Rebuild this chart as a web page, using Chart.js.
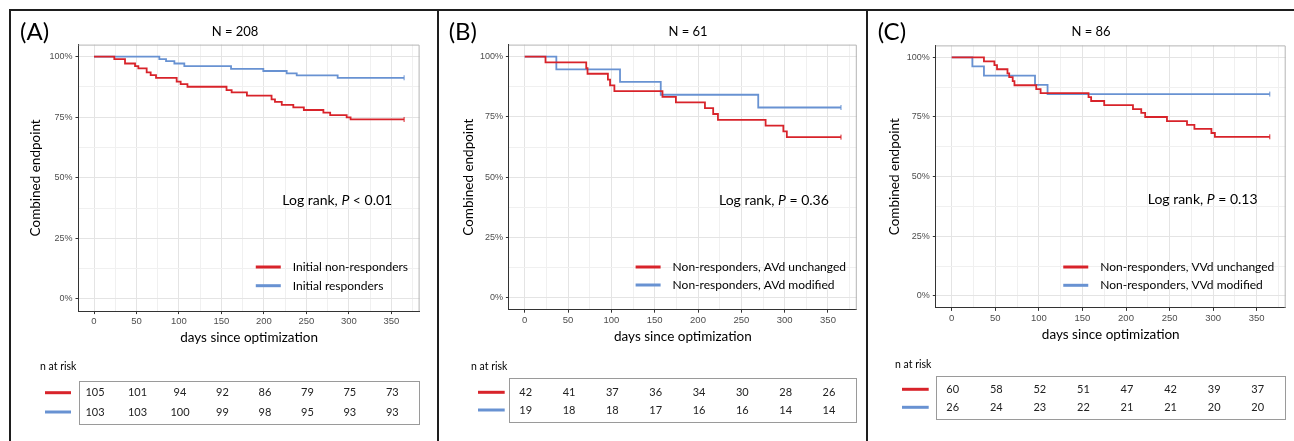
<!DOCTYPE html>
<html>
<head>
<meta charset="utf-8">
<title>Combined endpoint – Kaplan-Meier</title>
<script src="https://cdn.jsdelivr.net/npm/chart.js@4.4.1/dist/chart.umd.min.js"></script>
<style>
  html, body { margin: 0; padding: 0; background: #fff; }
  #page { position: relative; width: 1294px; height: 441px; overflow: hidden; }
  .rule { position: absolute; background: #1e1e1e; }
  canvas { position: absolute; top: 11px; }
</style>
</head>
<body>
<div id="page">
  <div class="rule" style="left:9px;top:9px;width:1285px;height:2px"></div>
  <div class="rule" style="left:9px;top:9px;width:2px;height:432px"></div>
  <div class="rule" style="left:437px;top:9px;width:2px;height:432px"></div>
  <div class="rule" style="left:866px;top:9px;width:2px;height:432px"></div>
  <canvas id="chartA" width="426" height="430" style="left:11px"></canvas>
  <canvas id="chartB" width="427" height="430" style="left:439px"></canvas>
  <canvas id="chartC" width="426" height="430" style="left:868px"></canvas>
</div>
<script>
// axis ticks (days / survival fraction)
const xTicks = [0, 50, 100, 150, 200, 250, 300, 350];
const yTicks = [0, 0.25, 0.5, 0.75, 1];
const riskDays = [0, 50, 100, 150, 200, 250, 300, 350];

// Panel A - N = 208
const aRedDays  = [0, 23.9, 36.5, 48.3, 52.2, 62, 66.7, 73, 97.3, 102, 110, 156, 162, 180, 209, 213, 221, 234.6, 247, 270, 278, 297.4, 302, 365];
const aRedSurv  = [1, 0.990, 0.972, 0.961, 0.952, 0.935, 0.924, 0.913, 0.897, 0.887, 0.876, 0.862, 0.853, 0.839, 0.824, 0.814, 0.801, 0.791, 0.780, 0.769, 0.759, 0.750, 0.741, 0.741];
const aBlueDays = [0, 76.9, 84.8, 94.6, 106.3, 161.3, 199.3, 226.8, 238.6, 286.8, 365];
const aBlueSurv = [1, 0.990, 0.982, 0.972, 0.961, 0.950, 0.941, 0.931, 0.923, 0.913, 0.913];
const aRedRisk  = [105, 101, 94, 92, 86, 79, 75, 73];
const aBlueRisk = [103, 103, 100, 99, 98, 95, 93, 93];

// Panel B - N = 61
const bRedDays  = [0, 24, 71, 72.5, 96, 98.5, 103.5, 159, 174.5, 208, 217.5, 223, 278, 298.5, 302.5, 365];
const bRedSurv  = [1, 0.976, 0.952, 0.929, 0.905, 0.881, 0.857, 0.833, 0.810, 0.786, 0.762, 0.738, 0.714, 0.690, 0.666, 0.666];
const bBlueDays = [0, 36.5, 110, 157, 269.5, 365];
const bBlueSurv = [1, 0.947, 0.895, 0.842, 0.789, 0.789];
const bRedRisk  = [42, 41, 37, 36, 34, 30, 28, 26];
const bBlueRisk = [19, 18, 18, 17, 16, 16, 14, 14];

// Panel C - N = 86
const cRedDays  = [0, 37, 49, 52, 64, 66, 70, 72, 97, 102, 157, 160, 175, 208, 217.5, 222, 247, 270, 278.5, 298, 302, 365];
const cRedSurv  = [1, 0.983, 0.967, 0.950, 0.933, 0.917, 0.900, 0.883, 0.867, 0.850, 0.833, 0.817, 0.800, 0.783, 0.767, 0.750, 0.733, 0.717, 0.700, 0.683, 0.667, 0.667];
const cBlueDays = [0, 23.7, 37, 95.6, 110, 365];
const cBlueSurv = [1, 0.962, 0.923, 0.885, 0.846, 0.846];
const cRedRisk  = [60, 58, 52, 51, 47, 42, 39, 37];
const cBlueRisk = [26, 24, 23, 22, 21, 21, 20, 20];

const RED = '#d8232a';
const BLUE = '#6892d2';
const SANS = 'Lato, "Open Sans", sans-serif';
const TICK_FONT = '"Liberation Sans", Arial, sans-serif';

// gridlines: majors plus the minor line halfway between
const xGrid = [];
xTicks.forEach(v => { xGrid.push(v, v + 25); });
const yGrid = [];
yTicks.forEach((v, i) => { yGrid.push(v); if (i < yTicks.length - 1) yGrid.push(v + 0.125); });

function toPoints(days, surv) {
  return days.map((d, i) => ({ x: d, y: surv[i] }));
}

function curve(label, days, surv, color) {
  const last = days.length - 1;
  return {
    label: label,
    data: toPoints(days, surv),
    borderColor: color,
    backgroundColor: color,
    borderWidth: 1.8,
    stepped: 'before',
    fill: false,
    pointStyle: 'line',
    rotation: 90,
    pointRadius: ctx => ctx.dataIndex === last ? 2.5 : 0,
    pointBorderWidth: 1,
    pointBorderColor: color
  };
}

function makePanel(p) {
  const canvas = document.getElementById(p.id);
  const W = canvas.width, H = canvas.height;
  const xAxisH = 36;
  const titleFont = { family: SANS, size: 13.5, lineHeight: 1.2 };
  const halfLine = 13.5 * 1.2 / 2;

  const panelText = {
    id: 'panelText',
    beforeDatasetsDraw(chart) {
      const { ctx, chartArea: a } = chart;
      ctx.save();
      ctx.strokeStyle = '#b4b4b4';
      ctx.lineWidth = 1;
      ctx.beginPath();
      ctx.moveTo(a.left, a.top + 0.5);
      ctx.lineTo(a.right - 0.5, a.top + 0.5);
      ctx.lineTo(a.right - 0.5, a.bottom);
      ctx.stroke();
      ctx.restore();
    },
    afterDraw(chart) {
      const { ctx, chartArea: a } = chart;
      const sx = chart.scales.x, sy = chart.scales.y;
      ctx.save();
      ctx.fillStyle = '#000';
      ctx.textBaseline = 'middle';

      // panel letter and N title
      ctx.font = '24px ' + SANS;
      ctx.textAlign = 'left';
      ctx.fillText(p.letter, p.letterX, 21);
      ctx.font = '13px ' + SANS;
      ctx.textAlign = 'center';
      ctx.fillText(p.title, p.titleX, 21);

      // log rank annotation, right aligned
      ctx.font = '14px ' + SANS;
      const pre = 'Log rank, ', post = ' ' + p.pText;
      const wPre = ctx.measureText(pre).width, wPost = ctx.measureText(post).width;
      ctx.font = 'italic 14px ' + SANS;
      const wP = ctx.measureText('P').width;
      const tx = sx.getPixelForValue(351) - (wPre + wP + wPost);
      const ty = sy.getPixelForValue(0.405);
      ctx.textAlign = 'left';
      ctx.font = '14px ' + SANS;
      ctx.fillText(pre, tx, ty);
      ctx.font = 'italic 14px ' + SANS;
      ctx.fillText('P', tx + wPre, ty);
      ctx.font = '14px ' + SANS;
      ctx.fillText(post, tx + wPre + wP, ty);

      // legend
      ctx.font = '12px ' + SANS;
      const lw = Math.max(...p.names.map(n => ctx.measureText(n).width));
      const lx = p.legendRight - lw;
      [RED, BLUE].forEach((c, i) => {
        ctx.strokeStyle = c;
        ctx.lineWidth = 3;
        ctx.beginPath();
        ctx.moveTo(lx - 37, p.legendY[i]);
        ctx.lineTo(lx - 12, p.legendY[i]);
        ctx.stroke();
        ctx.fillText(p.names[i], lx, p.legendY[i]);
      });

      // number at risk table
      ctx.font = '10.5px ' + SANS;
      ctx.fillText('n at risk', p.nRiskX, p.nRiskY);
      ctx.strokeStyle = '#9a9a9a';
      ctx.lineWidth = 1;
      ctx.strokeRect(Math.round(a.left) + 0.5, Math.round(p.boxTop) + 0.5,
                     Math.round(a.right - a.left) - 1, Math.round(p.boxBottom - p.boxTop));
      ctx.textAlign = 'center';
      ctx.fillStyle = '#222';
      ctx.font = '11px ' + SANS;
      [p.redRisk, p.blueRisk].forEach((row, r) => {
        row.forEach((n, i) => {
          ctx.fillText(String(n), sx.getPixelForValue(riskDays[i]) + 1, p.rowY[r]);
        });
        ctx.strokeStyle = r === 0 ? RED : BLUE;
        ctx.lineWidth = 3;
        ctx.beginPath();
        ctx.moveTo(p.swatchX[0], p.rowY[r]);
        ctx.lineTo(p.swatchX[1], p.rowY[r]);
        ctx.stroke();
      });
      ctx.restore();
    }
  };

  const gridColor = (ctx, majors) => majors.includes(ctx.tick.value) ? '#e4e4e4' : '#f0f0f0';
  const tickColor = (ctx, majors) => majors.includes(ctx.tick.value) ? '#333' : 'rgba(0,0,0,0)';

  new Chart(canvas, {
    type: 'line',
    data: {
      datasets: [
        curve(p.names[0], p.redDays, p.redSurv, RED),
        curve(p.names[1], p.blueDays, p.blueSurv, BLUE)
      ]
    },
    options: {
      responsive: false,
      animation: false,
      devicePixelRatio: 1,
      layout: {
        padding: { left: 0, top: p.plot.top, right: W - p.plot.right, bottom: H - p.plot.bottom - xAxisH }
      },
      plugins: {
        legend: { display: false },
        tooltip: { enabled: false },
        title: { display: false }
      },
      scales: {
        x: {
          type: 'linear',
          min: -18.25,
          max: 383.25,
          afterBuildTicks: s => { s.ticks = xGrid.map(v => ({ value: v })); },
          afterFit: s => { s.height = xAxisH; },
          grid: {
            color: ctx => gridColor(ctx, xTicks),
            lineWidth: 1,
            tickLength: 3,
            tickColor: ctx => tickColor(ctx, xTicks)
          },
          border: { color: '#333', width: 1 },
          ticks: {
            autoSkip: false,
            maxRotation: 0,
            padding: 2,
            color: '#4d4d4d',
            font: { family: TICK_FONT, size: 9.5 },
            callback: v => xTicks.includes(v) ? String(v) : ''
          },
          title: {
            display: true,
            text: 'days since optimization',
            color: '#000',
            font: titleFont,
            padding: { top: 0, bottom: 9.5 - halfLine }
          }
        },
        y: {
          type: 'linear',
          min: -0.05,
          max: 1.05,
          afterBuildTicks: s => { s.ticks = yGrid.map(v => ({ value: v })); },
          afterFit: s => { s.width = p.plot.left; },
          grid: {
            color: ctx => gridColor(ctx, yTicks),
            lineWidth: 1,
            tickLength: 3,
            tickColor: ctx => tickColor(ctx, yTicks)
          },
          border: { color: '#333', width: 1 },
          ticks: {
            autoSkip: false,
            padding: 3,
            color: '#4d4d4d',
            font: { family: TICK_FONT, size: 9 },
            callback: v => yTicks.includes(v) ? Math.round(v * 100) + '%' : ''
          },
          title: {
            display: true,
            text: 'Combined endpoint',
            color: '#000',
            font: titleFont,
            padding: { top: p.yTitleX - halfLine, bottom: 0 }
          }
        }
      }
    },
    plugins: [panelText]
  });
}

makePanel({
  id: 'chartA', letter: '(A)', title: 'N = 208', pText: '< 0.01',
  names: ['Initial non-responders', 'Initial responders'],
  redDays: aRedDays, redSurv: aRedSurv, blueDays: aBlueDays, blueSurv: aBlueSurv,
  redRisk: aRedRisk, blueRisk: aBlueRisk,
  plot: { left: 67.5, top: 33.6, right: 408.6, bottom: 300.1 },
  letterX: 9, titleX: 224, yTitleX: 25,
  legendRight: 397, legendY: [256, 274.7],
  nRiskX: 29, nRiskY: 355.7, boxTop: 369.7, boxBottom: 413, rowY: [381.7, 401], swatchX: [34, 60]
});

makePanel({
  id: 'chartB', letter: '(B)', title: 'N = 61', pText: '= 0.36',
  names: ['Non-responders, AVd unchanged', 'Non-responders, AVd modified'],
  redDays: bRedDays, redSurv: bRedSurv, blueDays: bBlueDays, blueSurv: bBlueSurv,
  redRisk: bRedRisk, blueRisk: bBlueRisk,
  plot: { left: 69.9, top: 33.6, right: 417.8, bottom: 298.7 },
  letterX: 9.7, titleX: 249, yTitleX: 30,
  legendRight: 407, legendY: [256, 274],
  nRiskX: 32, nRiskY: 355.7, boxTop: 367.3, boxBottom: 411.3, rowY: [381.3, 399], swatchX: [39, 65.7]
});

makePanel({
  id: 'chartC', letter: '(C)', title: 'N = 86', pText: '= 0.13',
  names: ['Non-responders, VVd unchanged', 'Non-responders, VVd modified'],
  redDays: cRedDays, redSurv: cRedSurv, blueDays: cBlueDays, blueSurv: cBlueSurv,
  redRisk: cRedRisk, blueRisk: cBlueRisk,
  plot: { left: 67.8, top: 34.4, right: 417.7, bottom: 296.9 },
  letterX: 9.7, titleX: 223, yTitleX: 26.3,
  legendRight: 406.3, legendY: [256, 274.3],
  nRiskX: 27, nRiskY: 354, boxTop: 365, boxBottom: 408.3, rowY: [378.3, 396.3], swatchX: [34, 60.7]
});
</script>
</body>
</html>
